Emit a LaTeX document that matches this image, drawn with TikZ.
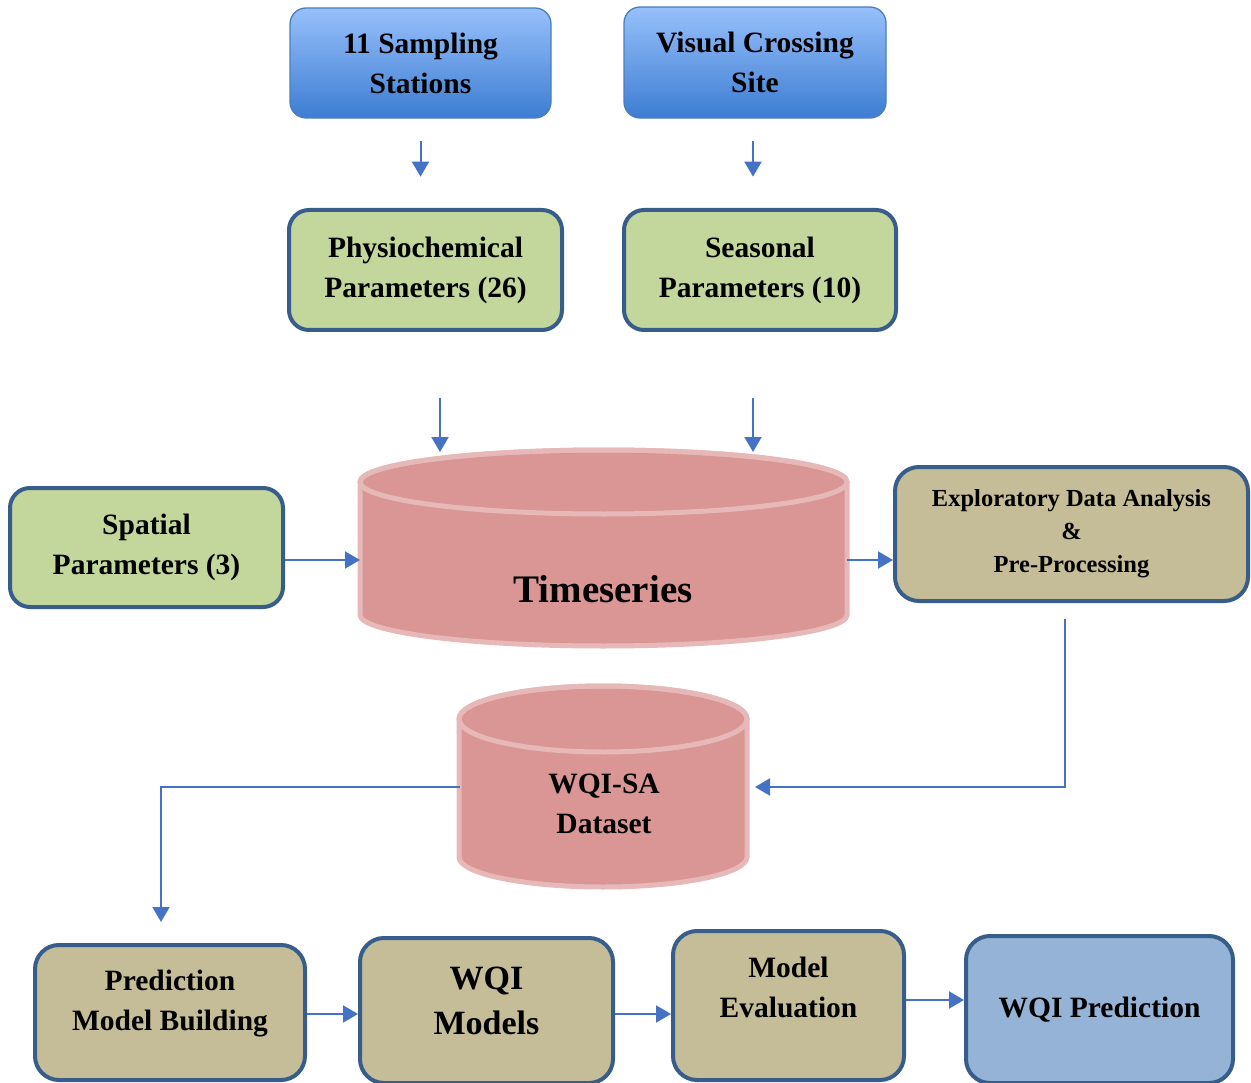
\documentclass[tikz,border=0pt]{standalone}
\usepackage{fontspec}
\setmainfont{Liberation Serif}
\usetikzlibrary{arrows.meta,calc}
\definecolor{bordc}{HTML}{385D8A}
\definecolor{greenf}{HTML}{C3D69B}
\definecolor{tanf}{HTML}{C4BD97}
\definecolor{bluef}{HTML}{95B3D7}
\definecolor{cylf}{HTML}{D99694}
\definecolor{cyld}{HTML}{E6B9B8}
\definecolor{arrc}{HTML}{4472C4}
\definecolor{gtop}{HTML}{97C0FB}
\definecolor{gbot}{HTML}{3D7DD2}
\definecolor{gbord}{HTML}{4A7EBB}
\begin{document}
\begin{tikzpicture}[x=1pt,y=-1pt,
  txt/.style={font=\bfseries\fontsize{29.5}{40}\selectfont, align=center, text=black},
  topbox/.style={txt, draw=gbord, line width=1.3pt, rounded corners=16pt, top color=gtop, bottom color=gbot},
  box/.style={txt, draw=bordc, line width=4pt, rounded corners=20pt},
  greenbox/.style={box, fill=greenf},
  tanbox/.style={box, fill=tanf, rounded corners=24pt},
  bluebox/.style={box, fill=bluef, rounded corners=24pt},
  cyl/.style={fill=cylf, draw=cyld, line width=5pt},
  arr/.style={draw=arrc, line width=2pt, -{Triangle[width=17pt,length=15pt]}},
  ln/.style={draw=arrc, line width=2pt}
]
\useasboundingbox (0,0) rectangle (1251,1083);
% top boxes
\node[topbox, minimum width=261pt, minimum height=110pt] (A) at (420.5,63) {11 Sampling\\Stations};
\node[topbox, minimum width=262pt, minimum height=111pt] (B) at (755,62.5) {Visual Crossing\\Site};
% parameter boxes
\node[greenbox, minimum width=273pt, minimum height=120pt] (C) at (425.5,270) {Physiochemical\\Parameters (26)};
\node[greenbox, minimum width=272pt, minimum height=120pt] (D) at (760,270) {Seasonal\\Parameters (10)};
\node[greenbox, minimum width=273pt, minimum height=119pt] (E) at (146.5,547.5) {Spatial\\Parameters (3)};
\node[tanbox, minimum width=353pt, minimum height=134pt, font=\bfseries\fontsize{24.5}{33}\selectfont] (F) at (1071.5,534) {Exploratory Data Analysis\\\&\\Pre-Processing};
% timeseries cylinder
\path[cyl] (360,482) -- (360,615) arc[start angle=180, end angle=360, x radius=243.5pt, y radius=31pt] -- (847,482) arc[start angle=0, end angle=180, x radius=243.5pt, y radius=32pt] -- cycle;
\draw[cyld, line width=5pt] (603.5,482) ellipse[x radius=243.5pt, y radius=32pt];
\node[txt, font=\bfseries\fontsize{39}{45}\selectfont] (ts) at (603,589) {Timeseries};
\coordinate (tsL) at (360,560);
\coordinate (tsR) at (847,560);
\coordinate (tsT1) at (440,452);
\coordinate (tsT2) at (753,452);
% WQI-SA cylinder
\path[cyl] (459,719) -- (459,857) arc[start angle=180, end angle=360, x radius=144pt, y radius=30pt] -- (747,719) arc[start angle=0, end angle=180, x radius=144pt, y radius=33pt] -- cycle;
\draw[cyld, line width=5pt] (603,719) ellipse[x radius=144pt, y radius=33pt];
\node[txt] (wq) at (604,804) {WQI-SA\\Dataset};
\coordinate (wqL) at (460,787);
\coordinate (wqR) at (755,787);
% bottom boxes
\node[tanbox, minimum width=270pt, minimum height=135pt] (G) at (170,1012.5) {};
\node[txt] (Gt) at (170,1004) {Prediction\\Model Building};
\node[tanbox, minimum width=253pt, minimum height=145pt] (H) at (486.5,1010.5) {};
\node[txt, font=\bfseries\fontsize{34}{45}\selectfont] (Ht) at (486.5,1001) {WQI\\Models};
\node[tanbox, minimum width=231pt, minimum height=149pt] (I) at (788.5,1005.5) {};
\node[txt] (It) at (788.5,987) {Model\\Evaluation};
\node[bluebox, minimum width=267pt, minimum height=147pt] (J) at (1099.5,1009.5) {WQI Prediction};
% connectors
\draw[arr] ($(A.south)+(0,22)$) -- ($(A.south)+(0,58)$);
\draw[arr] ($(B.south)+(-2,22)$) -- ($(B.south)+(-2,58)$);
\draw[arr] ($(tsT1)+(0,-54)$) -- (tsT1);
\draw[arr] ($(tsT2)+(0,-54)$) -- (tsT2);
\draw[arr] (E.east |- tsL) -- (tsL);
\draw[arr] (tsR) -- (F.west |- tsR);
\coordinate (f1) at ($(F.south)+(-6.5,16)$);
\draw[arr] (f1) -- (f1 |- wqR) -- (wqR);
\coordinate (g1) at (161,922);
\draw[arr] (wqL) -- (g1 |- wqL) -- (g1);
\coordinate (row) at (0,1014);
\draw[arr] (G.east |- row) -- (H.west |- row);
\draw[arr] (H.east |- row) -- (I.west |- row);
\coordinate (row2) at (0,1000);
\draw[arr] (I.east |- row2) -- (J.west |- row2);
\end{tikzpicture}
\end{document}
